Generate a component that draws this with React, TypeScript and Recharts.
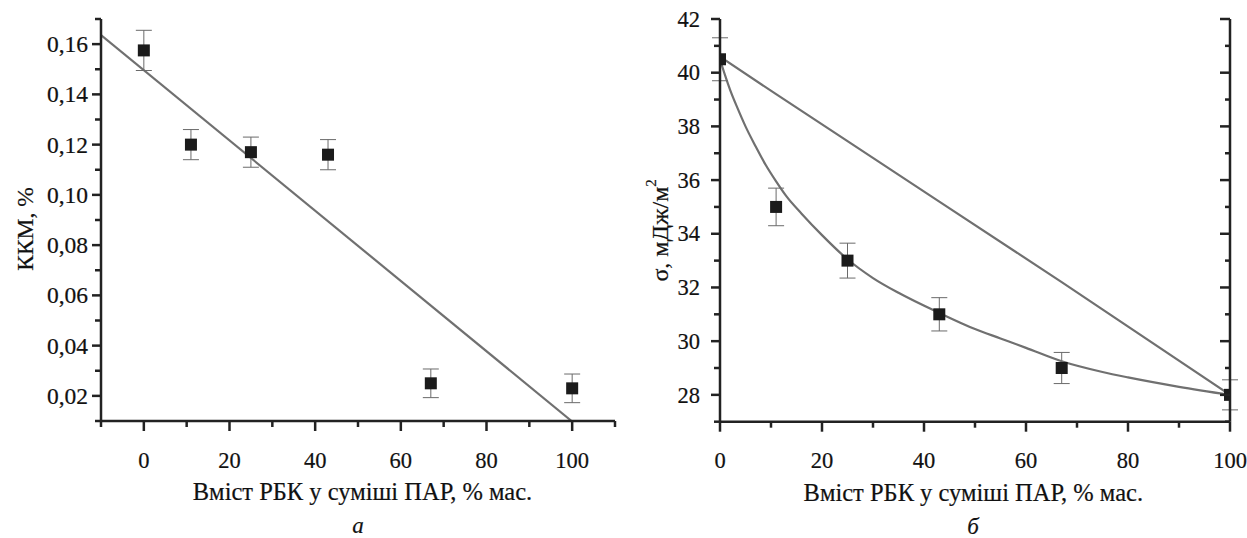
import React from "react";
import { ComposedChart, XAxis, YAxis, Line, Scatter, ErrorBar, Label } from "recharts";

const FONT = "Liberation Serif, Times New Roman, serif";
const AXIS = "#222";
const CURVE = "#707070";
const ERR = "#6a6a6a";
const MARK = "#1b1b1b";
const TEXT = "#111";

// panel а: ККМ vs РБК content
const kkmX = [0, 11, 25, 43, 67, 100];
const kkmY = [0.1575, 0.12, 0.117, 0.116, 0.025, 0.023];
const kkmErr = [0.008, 0.006, 0.006, 0.006, 0.0057, 0.0057];
const kkmFitX = [-10, 100];
const kkmFitY = [0.1636, 0.0098];
const kkmXTicks = [-10, 0, 10, 20, 30, 40, 50, 60, 70, 80, 90, 100, 110];
const kkmYTicks = [0.01, 0.02, 0.03, 0.04, 0.05, 0.06, 0.07, 0.08, 0.09, 0.1, 0.11, 0.12, 0.13, 0.14, 0.15, 0.16, 0.17];

// panel б: surface tension
const sigmaX = [0, 11, 25, 43, 67, 100];
const sigmaY = [40.5, 35, 33, 31, 29, 28];
const sigmaErr = [0.8, 0.7, 0.65, 0.62, 0.58, 0.56];
const idealX = [0, 11, 25, 43, 67, 100];
const idealY = [40.6, 39.2, 37.45, 35.2, 32.2, 28.0];
const fitX = [0, 1, 2, 3.5, 5, 7, 9, 11, 13, 16, 20, 25, 30, 35, 43, 50, 55, 60, 67, 75, 80, 90, 100];
const fitY = [40.5, 39.9, 39.35, 38.65, 38.0, 37.25, 36.55, 35.95, 35.4, 34.75, 33.95, 33.05, 32.35, 31.8, 31.05, 30.45, 30.1, 29.75, 29.25, 28.85, 28.65, 28.3, 28.0];
const sigmaXTicks = [0, 10, 20, 30, 40, 50, 60, 70, 80, 90, 100];
const sigmaYTicks = [27, 28, 29, 30, 31, 32, 33, 34, 35, 36, 37, 38, 39, 40, 41, 42];

const kkmPoints = kkmX.map((x, i) => ({ x, y: kkmY[i], err: kkmErr[i] }));
const kkmFit = kkmFitX.map((x, i) => ({ x, y: kkmFitY[i] }));
const sigmaPoints = sigmaX.map((x, i) => ({ x, y: sigmaY[i], err: sigmaErr[i] }));
const ideal = idealX.map((x, i) => ({ x, y: idealY[i] }));
const fit = fitX.map((x, i) => ({ x, y: fitY[i] }));

// slight stroke so the serif glyphs look as heavy as in the scan
const txt = { fontFamily: FONT, fill: TEXT, stroke: TEXT, strokeWidth: 0.2 };

const bottomTick =
  (isMajor: (v: number) => boolean, labelDy: number) => (props: any) => {
    const { x, y, payload } = props;
    const v = payload.value;
    const major = isMajor(v);
    return (
      <g>
        <line x1={x} x2={x} y1={y} y2={y + (major ? 10 : 6)} stroke={AXIS} strokeWidth={2.5} />
        {major && (
          <text x={x} y={y + labelDy} textAnchor="middle" fontSize={22.5} style={txt}>
            {v}
          </text>
        )}
      </g>
    );
  };

const leftTick =
  (isMajor: (v: number) => boolean, fmt: (v: number) => string, gap: number, size: number) =>
  (props: any) => {
    const { x, y, payload } = props;
    const v = payload.value;
    const major = isMajor(v);
    return (
      <g>
        <line x1={x - (major ? 9 : 6)} x2={x} y1={y} y2={y} stroke={AXIS} strokeWidth={2.5} />
        {major && (
          <text x={x - gap} y={y + size * 0.34} textAnchor="end" fontSize={size} style={txt}>
            {fmt(v)}
          </text>
        )}
      </g>
    );
  };

const rightTick = (isMajor: (v: number) => boolean) => (props: any) => {
  const { x, y, payload } = props;
  const major = isMajor(payload.value);
  return <line x1={x - (major ? 10 : 5)} x2={x} y1={y} y2={y} stroke={AXIS} strokeWidth={2.5} />;
};

const xTitle = (dx: number, letter: string, letterDx: number) => (props: any) => {
  const vb = props.viewBox;
  const cx = vb.x + vb.width / 2;
  return (
    <g>
      <text x={cx + dx} y={vb.y + 79} textAnchor="middle" fontSize={24.5} style={txt}>
        Вміст РБК у суміші ПАР, % мас.
      </text>
      <text x={cx + letterDx} y={vb.y + 112} textAnchor="middle" fontSize={23} fontStyle="italic" style={txt}>
        {letter}
      </text>
    </g>
  );
};

const square = (props: any) => (
  <rect x={props.cx - 6} y={props.cy - 6} width={12} height={12} fill={MARK} />
);

const axisLine = { stroke: AXIS, strokeWidth: 2.5 };
const even20 = (v: number) => v % 20 === 0;

export default function App() {
  return (
    <div style={{ position: "absolute", left: 0, top: 0, width: 1247, height: 538, background: "#fff", fontFamily: FONT }}>
      <div style={{ position: "absolute", left: 0, top: 0 }}>
        <ComposedChart width={640} height={538} margin={{ top: 19, right: 25, bottom: 17, left: 41 }}>
          <XAxis
            type="number"
            dataKey="x"
            domain={[-10, 110]}
            ticks={kkmXTicks}
            interval={0}
            tickLine={false}
            tickSize={0}
            tickMargin={0}
            height={100}
            axisLine={axisLine}
            tick={bottomTick(even20, 47)}
            allowDataOverflow
          >
            <Label content={xTitle(4.5, "а", 0)} />
          </XAxis>
          <YAxis
            type="number"
            dataKey="y"
            domain={[0.01, 0.17]}
            ticks={kkmYTicks}
            interval={0}
            tickLine={false}
            tickSize={0}
            tickMargin={0}
            width={60}
            axisLine={axisLine}
            tick={leftTick((v) => Math.round(v * 100) % 2 === 0, (v) => v.toFixed(2).replace(".", ","), 13, 23.5)}
            allowDataOverflow
          >
            <Label
              content={(p: any) => {
                const vb = p.viewBox;
                const cx = vb.x - 16;
                const cy = vb.y + vb.height / 2 + 9;
                return (
                  <text x={cx} y={cy} transform={`rotate(-90, ${cx}, ${cy})`} textAnchor="middle" dominantBaseline="central" fontSize={23.5} style={txt}>
                    ККМ, %
                  </text>
                );
              }}
            />
          </YAxis>
          <Line data={kkmFit} dataKey="y" type="linear" stroke={CURVE} strokeWidth={2.2} dot={false} isAnimationActive={false} />
          <Scatter data={kkmPoints} dataKey="y" shape={square} isAnimationActive={false}>
            <ErrorBar dataKey="err" direction="y" width={8} stroke={ERR} strokeWidth={1} />
          </Scatter>
        </ComposedChart>
      </div>

      <div style={{ position: "absolute", left: 620, top: 0 }}>
        <ComposedChart width={627} height={538} margin={{ top: 19, right: 7, bottom: 16.3, left: 30 }}>
          <XAxis
            type="number"
            dataKey="x"
            domain={[0, 100]}
            ticks={sigmaXTicks}
            interval={0}
            tickLine={false}
            tickSize={0}
            tickMargin={0}
            height={100}
            axisLine={axisLine}
            tick={bottomTick(even20, 46.5)}
            allowDataOverflow
          >
            <Label content={xTitle(-1.7, "б", -2)} />
          </XAxis>
          <YAxis
            type="number"
            dataKey="y"
            domain={[27, 42]}
            ticks={sigmaYTicks}
            interval={0}
            tickLine={false}
            tickSize={0}
            tickMargin={0}
            width={70}
            axisLine={axisLine}
            tick={leftTick((v) => v % 2 === 0, (v) => String(v), 20, 22.5)}
            allowDataOverflow
          >
            <Label
              content={(p: any) => {
                const vb = p.viewBox;
                const cx = vb.x + 10.5;
                const cy = vb.y + vb.height / 2 + 10;
                return (
                  <text x={cx} y={cy} transform={`rotate(-90, ${cx}, ${cy})`} textAnchor="middle" dominantBaseline="central" fontSize={24} style={txt}>
                    σ, мДж/м<tspan dy={-9} fontSize={15}>2</tspan>
                  </text>
                );
              }}
            />
          </YAxis>
          <YAxis
            yAxisId="right"
            orientation="right"
            type="number"
            domain={[27, 42]}
            ticks={sigmaYTicks}
            interval={0}
            tickLine={false}
            tickSize={0}
            tickMargin={0}
            width={10}
            axisLine={axisLine}
            tick={rightTick((v) => v % 2 === 0)}
            allowDataOverflow
          />
          <Line data={ideal} dataKey="y" type="linear" stroke={CURVE} strokeWidth={2.2} dot={false} isAnimationActive={false} />
          <Line data={fit} dataKey="y" type="monotone" stroke={CURVE} strokeWidth={2.2} dot={false} isAnimationActive={false} />
          <Scatter data={sigmaPoints} dataKey="y" shape={square} isAnimationActive={false}>
            <ErrorBar dataKey="err" direction="y" width={8} stroke={ERR} strokeWidth={1} />
          </Scatter>
        </ComposedChart>
      </div>
    </div>
  );
}
